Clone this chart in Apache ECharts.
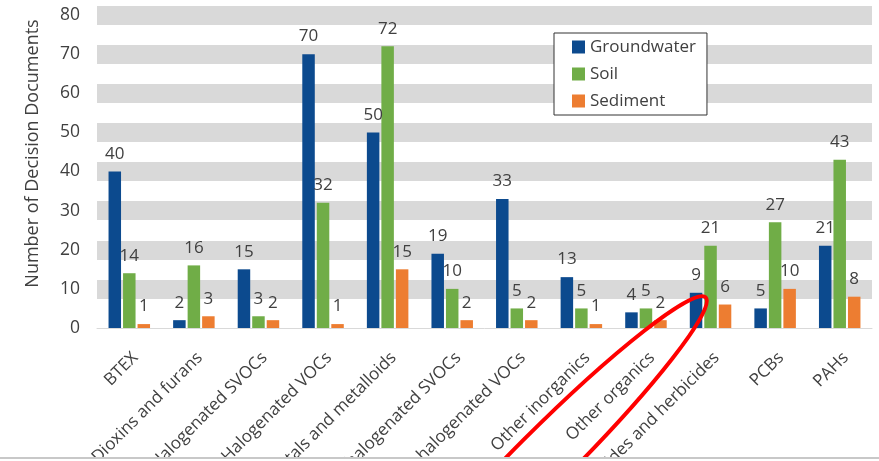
<!DOCTYPE html>
<html>
<head>
<meta charset="utf-8">
<script src="https://cdn.jsdelivr.net/npm/echarts@6/dist/echarts.min.js"></script>
<style>html,body{margin:0;padding:0;background:#fff;}#c{width:879px;height:461px;}</style>
</head>
<body>
<div id="c"></div>
<script>
var categories = ["BTEX", "Dioxins and furans", "Halogenated SVOCs", "Halogenated VOCs", "Metals and metalloids", "Non-halogenated SVOCs", "Non-halogenated VOCs", "Other inorganics", "Other organics", "Pesticides and herbicides", "PCBs", "PAHs"];
var groundwater = [40, 2, 15, 70, 50, 19, 33, 13, 4, 9, 5, 21];
var soil = [14, 16, 3, 32, 72, 10, 5, 5, 5, 21, 27, 43];
var sediment = [1, 3, 2, 1, 15, 2, 2, 1, 2, 6, 10, 8];
var yTicks = [0, 10, 20, 30, 40, 50, 60, 70, 80];

var FONT = 'Open Sans';
var TXT = '#404040';
var chart = echarts.init(document.getElementById('c'), null, {renderer: 'canvas'});

var bandColors = yTicks.map(function (v) { return v === 0 ? 'rgba(0,0,0,0)' : '#d9d9d9'; });

function barSeries(name, data, color) {
  return {
    name: name,
    type: 'bar',
    data: data,
    barWidth: 12.5,
    barGap: '16%',
    itemStyle: {color: color},
    label: {show: true, position: 'top', distance: 9, fontSize: 17, color: TXT, fontFamily: FONT}
  };
}

chart.setOption({
  animation: false,
  backgroundColor: '#ffffff',
  grid: {left: 97, right: 7, top: 15, bottom: 133, containLabel: false, outerBoundsMode: 'none'},
  legend: {
    orient: 'vertical',
    left: 554, top: 33,
    padding: [5, 11, 5, 18],
    itemWidth: 13, itemHeight: 13, itemGap: 9,
    icon: 'rect',
    backgroundColor: '#ffffff',
    borderColor: '#333333', borderWidth: 1,
    textStyle: {fontSize: 17, color: TXT, fontFamily: FONT, lineHeight: 18},
    data: ['Groundwater', 'Soil', 'Sediment']
  },
  xAxis: {
    type: 'category',
    data: categories,
    axisTick: {show: false},
    axisLine: {lineStyle: {color: '#d9d9d9', width: 1}},
    axisLabel: {interval: 0, rotate: 45, margin: 21, fontSize: 17, color: TXT, fontFamily: FONT, verticalAlign: 'top'}
  },
  yAxis: {
    type: 'value',
    min: 0, max: 80, interval: 10,
    axisLine: {show: false},
    axisTick: {show: false},
    axisLabel: {margin: 17, fontSize: 17.5, color: TXT, fontFamily: FONT},
    splitLine: {show: true, lineStyle: {width: 19, color: bandColors}},
    name: 'Number of Decision Documents',
    nameLocation: 'middle',
    nameGap: 55,
    nameTextStyle: {fontSize: 18, color: TXT, fontFamily: FONT, padding: [0, 0, 0, 36]}
  },
  series: [
    barSeries('Groundwater', groundwater, '#0c4a8e'),
    barSeries('Soil', soil, '#70ad47'),
    barSeries('Sediment', sediment, '#ed7d31')
  ],
  graphic: [
    {type: 'rect', z: 200, shape: {x: 0, y: 457, width: 879, height: 2}, style: {fill: '#c8c8c8'}},
    {type: 'rect', z: 200, shape: {x: 0, y: 459, width: 879, height: 4}, style: {fill: '#ffffff'}},
    {type: 'ellipse', z: 150, x: 543, y: 460, rotation: Math.PI / 4,
     shape: {cx: 0, cy: 0, rx: 230, ry: 28},
     style: {fill: 'none', stroke: '#ff0000', lineWidth: 4}}
  ]
});
</script>
</body>
</html>
